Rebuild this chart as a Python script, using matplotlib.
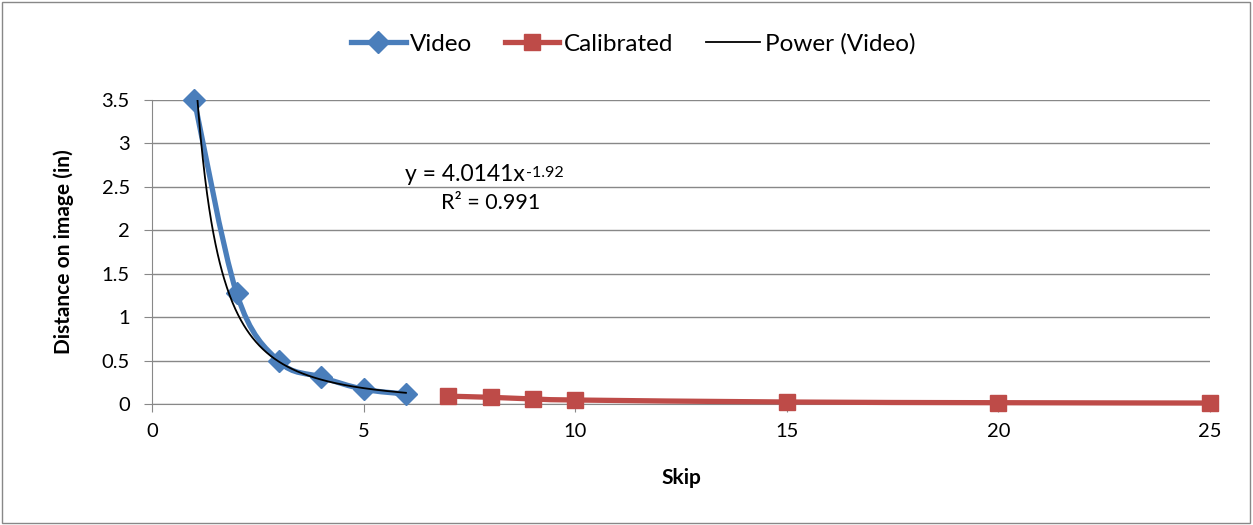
import numpy as np
import matplotlib
matplotlib.use('Agg')
from matplotlib import pyplot as plt
from matplotlib.path import Path
from matplotlib.patches import PathPatch, Rectangle
from matplotlib.lines import Line2D

plt.rcParams['font.family'] = ['Lato', 'DejaVu Sans']

# data
video_x = [1, 2, 3, 4, 5, 6]
video_y = [3.5, 1.275, 0.49, 0.31, 0.17, 0.115]
cal_x = [7, 8, 9, 10, 15, 20, 25]
cal_y = [0.09, 0.077, 0.058, 0.046, 0.023, 0.015, 0.011]
fit_a, fit_b = 4.0141, -1.92
eq_text = 'y = 4.0141x'
eq_exp = '-1.92'
r2_text = 'R² = 0.991'

blue = '#4A7EBB'
red = '#BE4B48'


def smooth_path(x, y):
    # excel-style smoothed line: catmull-rom segments as cubic beziers
    p = np.column_stack([x, y]).astype(float)
    verts = [p[0]]
    codes = [Path.MOVETO]
    n = len(p)
    for i in range(n - 1):
        p0 = p[i - 1] if i > 0 else p[i]
        p1, p2 = p[i], p[i + 1]
        p3 = p[i + 2] if i + 2 < n else p[i + 1]
        c1 = p1 + (p2 - p0) / 6
        c2 = p2 - (p3 - p1) / 6
        verts += [c1, c2, p2]
        codes += [Path.CURVE4] * 3
    return Path(verts, codes)


fig = plt.figure(figsize=(12.53, 5.25), dpi=100)
ax = fig.add_axes([152/1253, 1-404/525, (1210-152)/1253, (404-100)/525])
fig.patches.append(Rectangle((0.0015, 0.003), 0.996, 0.993, transform=fig.transFigure,
                             fill=False, ec='#888888', lw=1))

ax.add_patch(PathPatch(smooth_path(video_x, video_y), fill=False, ec=blue, lw=3.8,
                       capstyle='round', zorder=3, clip_on=False))
ax.plot(video_x, video_y, ls='none', marker='D', ms=11, color=blue, zorder=4, clip_on=False)
ax.add_patch(PathPatch(smooth_path(cal_x, cal_y), fill=False, ec=red, lw=3.8, zorder=3,
                       clip_on=False))
ax.plot(cal_x, cal_y, ls='none', marker='s', ms=12, color=red, zorder=4, clip_on=False)

# power trendline, clipped to the plot area like excel does
xf = np.linspace(video_x[0], video_x[-1], 300)
ax.plot(xf, fit_a * xf ** fit_b, color='black', lw=1.3, zorder=5)

t = ax.text(7.40, 2.64, eq_text, ha='center', va='center', fontsize=16.5)
ax.annotate(eq_exp, xy=(1, 1), xycoords=t, xytext=(1, -1), textcoords='offset points',
            ha='left', va='top', fontsize=11.5)
ax.text(8.0, 2.31, r2_text, ha='center', va='center', fontsize=15.5)

ax.set_xlim(0, 25)
ax.set_ylim(0, 3.5)
ax.set_xticks([0, 5, 10, 15, 20, 25])
ax.set_yticks(np.arange(0, 3.51, 0.5))
ax.set_yticklabels(['0', '0.5', '1', '1.5', '2', '2.5', '3', '3.5'])
ax.yaxis.grid(True, color='#888888', lw=1)
ax.set_axisbelow(True)
for s in ['top', 'right']:
    ax.spines[s].set_visible(False)
for s in ['left', 'bottom']:
    ax.spines[s].set_color('#888888')
ax.tick_params(axis='both', colors='#888888', labelcolor='black', labelsize=14.5,
               length=6, direction='out')
ax.tick_params(axis='x', pad=8)
ax.tick_params(axis='y', pad=10)
ax.set_xlabel('Skip', fontsize=15, fontweight='bold', labelpad=20)
ax.set_ylabel('Distance on image (in)', fontsize=15, fontweight='bold', labelpad=20)

handles = [Line2D([], [], color=blue, lw=3.8, marker='D', ms=11),
           Line2D([], [], color=red, lw=3.8, marker='s', ms=12),
           Line2D([], [], color='black', lw=1.3)]
fig.legend(handles, ['Video', 'Calibrated', 'Power (Video)'], loc='center',
           bbox_to_anchor=(633/1253, 1-44/525), ncol=3, frameon=False, fontsize=17.5,
           handlelength=2.25, handletextpad=0.17, columnspacing=1.35)

fig.savefig('out.png', dpi=100)
